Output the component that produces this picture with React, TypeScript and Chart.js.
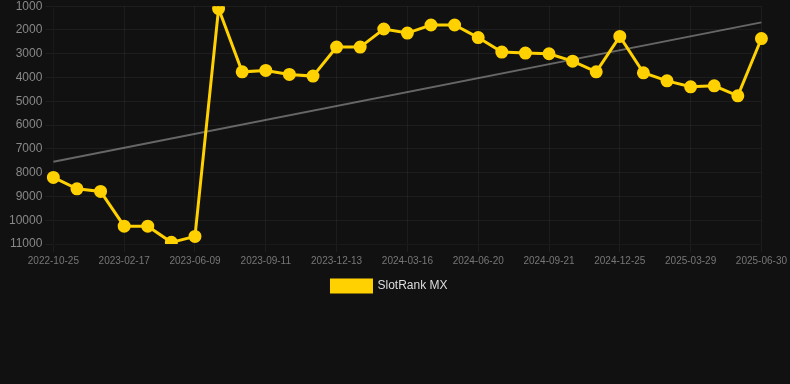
import React, { useEffect, useRef } from "react";
import { Chart, registerables } from "chart.js";

Chart.register(...registerables);

const dates: string[] = [
  "2022-10-25", "2022-12-02", "2023-01-09", "2023-02-17", "2023-03-28", "2023-05-01",
  "2023-06-09", "2023-07-11", "2023-08-10", "2023-09-11", "2023-10-12", "2023-11-12",
  "2023-12-13", "2024-01-13", "2024-02-14", "2024-03-16", "2024-04-16", "2024-05-19",
  "2024-06-20", "2024-07-21", "2024-08-21", "2024-09-21", "2024-10-22", "2024-11-23",
  "2024-12-25", "2025-01-25", "2025-02-26", "2025-03-29", "2025-04-29", "2025-05-30",
  "2025-06-30",
];

const slotRank: number[] = [
  8200, 8680, 8790, 10250, 10250, 10930, 10680, 1100, 3760, 3700, 3870, 3940,
  2720, 2720, 1960, 2130, 1790, 1790, 2320, 2930, 2970, 3000, 3310, 3760,
  2270, 3800, 4140, 4390, 4350, 4770, 2360,
];

const trendStart = 7540;
const trendEnd = 1680;

const seriesLabel = "SlotRank MX";

export default function App() {
  const ref = useRef<HTMLCanvasElement | null>(null);

  useEffect(() => {
    document.body.style.margin = "0";
    document.body.style.background = "#111111";
    const trend: (number | null)[] = dates.map((_, i) =>
      i === 0 ? trendStart : i === dates.length - 1 ? trendEnd : null
    );
    const chart = new Chart(ref.current as HTMLCanvasElement, {
      type: "line",
      data: {
        labels: dates,
        datasets: [
          {
            label: seriesLabel,
            data: slotRank,
            borderColor: "#FFD100",
            backgroundColor: "#FFD100",
            borderWidth: 3,
            pointRadius: 5,
            pointBackgroundColor: "#FFD100",
            pointBorderColor: "#FFD100",
            tension: 0,
          },
          {
            label: "trend",
            data: trend,
            borderColor: "rgba(160,160,160,0.6)",
            backgroundColor: "rgba(160,160,160,0.6)",
            borderWidth: 2,
            pointRadius: 0,
            spanGaps: true,
          },
        ],
      },
      options: {
        animation: false,
        responsive: false,
        maintainAspectRatio: false,
        layout: { padding: { left: 6, right: 17, top: 0, bottom: 82 } },
        scales: {
          x: {
            type: "category",
            grid: { color: "rgba(255,255,255,0.05)" },
            ticks: {
              color: "#777777",
              font: { size: 10 },
              autoSkip: false,
              maxRotation: 0,
            },
            afterBuildTicks: (scale: any) => {
              scale.ticks = scale.ticks.filter((t: any) => t.value % 3 === 0);
            },
          },
          y: {
            reverse: true,
            min: 1000,
            max: 11000,
            grid: { color: "rgba(255,255,255,0.05)" },
            ticks: {
              stepSize: 1000,
              color: "#888888",
              font: { size: 12 },
              callback: (v: any) => String(v),
            },
          },
        },
        plugins: {
          legend: {
            position: "bottom",
            labels: {
              color: "#dddddd",
              font: { size: 12 },
              filter: (item: any) => item.text === seriesLabel,
            },
          },
          tooltip: { enabled: false },
        },
      },
    });
    return () => chart.destroy();
  }, []);

  return (
    <div style={{ width: 790, height: 384, background: "#111111", overflow: "hidden" }}>
      <canvas ref={ref} width={790} height={388} style={{ display: "block", marginTop: -4 }} />
    </div>
  );
}
